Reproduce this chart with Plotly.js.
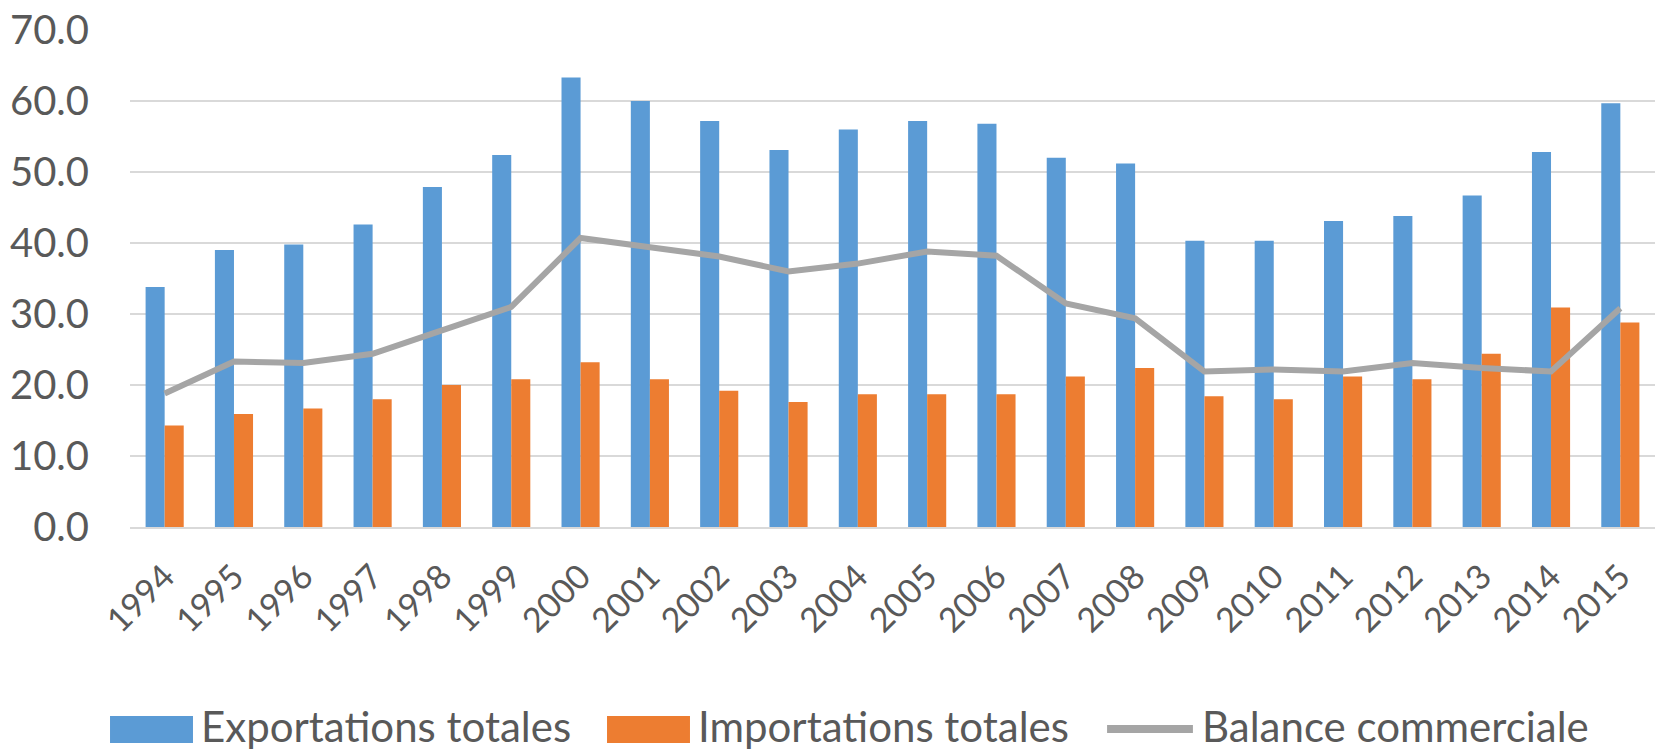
<!DOCTYPE html>
<html>
<head>
<meta charset="utf-8">
<script src="https://cdn.plot.ly/plotly-3.0.1.min.js"></script>
<style>
  html, body { margin: 0; padding: 0; background: #ffffff; }
  #chart { width: 1660px; height: 752px; }
</style>
</head>
<body>
<div id="chart"></div>
<script>
const years = ['1994','1995','1996','1997','1998','1999','2000','2001','2002','2003','2004',
               '2005','2006','2007','2008','2009','2010','2011','2012','2013','2014','2015'];
const exportations = [33.8, 39.0, 39.8, 42.6, 47.9, 52.4, 63.3, 60.0, 57.2, 53.1, 56.0,
                      57.2, 56.8, 52.0, 51.2, 40.3, 40.3, 43.1, 43.8, 46.7, 52.8, 59.7];
const importations = [14.3, 15.9, 16.7, 18.0, 20.0, 20.8, 23.2, 20.8, 19.2, 17.6, 18.7,
                      18.7, 18.7, 21.2, 22.4, 18.4, 18.0, 21.2, 20.8, 24.4, 30.9, 28.8];
const balance = [18.8, 23.3, 23.1, 24.4, 27.7, 31.0, 40.7, 39.3, 38.1, 36.0, 37.1,
                 38.8, 38.2, 31.5, 29.4, 21.9, 22.2, 21.9, 23.1, 22.4, 21.9, 30.8];
const yTicks = [0, 10, 20, 30, 40, 50, 60, 70];
const yTickLabels = ['0.0', '10.0', '20.0', '30.0', '40.0', '50.0', '60.0', '70.0'];
const seriesNames = ['Exportations totales', 'Importations totales', 'Balance commerciale'];

const C_BLUE = '#5B9BD5', C_ORANGE = '#ED7D31', C_GREY = '#A5A5A5';
const TXT = '#595959';
const FONT = 'Lato, "Open Sans", sans-serif';
const FS = 42;

const traces = [
  { type: 'bar', name: seriesNames[0], x: years, y: exportations, marker: { color: C_BLUE }, showlegend: false },
  { type: 'bar', name: seriesNames[1], x: years, y: importations, marker: { color: C_ORANGE }, showlegend: false },
  { type: 'scatter', mode: 'lines', name: seriesNames[2], x: years, y: balance,
    line: { color: C_GREY, width: 6 }, showlegend: false }
];

const legY = -0.3995;
const layout = {
  width: 1660, height: 752,
  margin: { l: 130, r: 5, t: 30, b: 225 },
  paper_bgcolor: '#ffffff', plot_bgcolor: '#ffffff',
  font: { family: FONT, size: FS, color: TXT },
  barmode: 'group', bargap: 0.45, bargroupgap: 0,
  xaxis: {
    type: 'category', tickangle: -45, ticks: '', showgrid: false,
    showline: true, linecolor: '#D9D9D9', linewidth: 2,
    tickfont: { family: FONT, size: 34, color: TXT },
    ticklabelstandoff: 14, automargin: false
  },
  yaxis: {
    range: [0, 70], tickvals: yTicks, ticktext: yTickLabels, ticks: '',
    showgrid: true, gridcolor: '#D9D9D9', gridwidth: 2, zeroline: false,
    showline: false, tickfont: { family: FONT, size: 40, color: TXT },
    ticklabelstandoff: 40, automargin: false
  },
  showlegend: false,
  shapes: [
    { type: 'rect', xref: 'paper', yref: 'paper', x0: -0.0131, x1: 0.0413, y0: -0.4346, y1: -0.3803,
      fillcolor: C_BLUE, line: { width: 0 } },
    { type: 'rect', xref: 'paper', yref: 'paper', x0: 0.3128, x1: 0.3672, y0: -0.4346, y1: -0.3803,
      fillcolor: C_ORANGE, line: { width: 0 } },
    { type: 'line', xref: 'paper', yref: 'paper', x0: 0.6407, x1: 0.6970, y0: -0.4064, y1: -0.4064,
      line: { color: C_GREY, width: 8 } }
  ],
  annotations: [
    { xref: 'paper', yref: 'paper', x: 0.0460, y: legY, xanchor: 'left', yanchor: 'middle',
      text: seriesNames[0], showarrow: false, borderpad: 0, font: { family: FONT, size: FS, color: TXT } },
    { xref: 'paper', yref: 'paper', x: 0.3719, y: legY, xanchor: 'left', yanchor: 'middle',
      text: seriesNames[1], showarrow: false, borderpad: 0, font: { family: FONT, size: FS, color: TXT } },
    { xref: 'paper', yref: 'paper', x: 0.7024, y: legY, xanchor: 'left', yanchor: 'middle',
      text: seriesNames[2], showarrow: false, borderpad: 0, font: { family: FONT, size: FS, color: TXT } }
  ]
};

Plotly.newPlot('chart', traces, layout, { displayModeBar: false, staticPlot: true });
</script>
</body>
</html>
